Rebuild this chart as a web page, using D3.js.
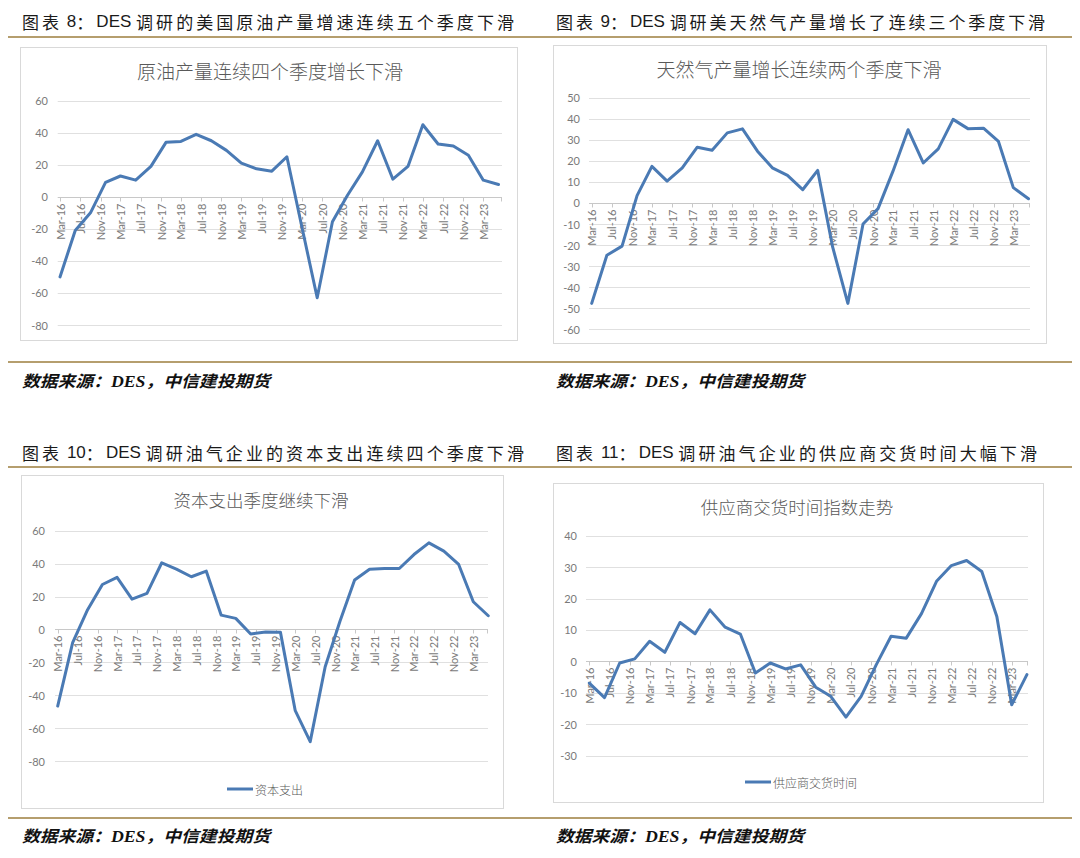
<!DOCTYPE html>
<html>
<head>
<meta charset="utf-8">
<script src="https://cdn.jsdelivr.net/npm/d3@7"></script>
<style>
  html, body { margin: 0; padding: 0; background: #fff; }
  svg { display: block; }
</style>
</head>
<body>
<svg id="chart" width="1080" height="858"></svg>
<script>
// ---------------- DATA ----------------
const quarters = ["Mar-16","Jun-16","Sep-16","Dec-16","Mar-17","Jun-17","Sep-17","Dec-17",
  "Mar-18","Jun-18","Sep-18","Dec-18","Mar-19","Jun-19","Sep-19","Dec-19",
  "Mar-20","Jun-20","Sep-20","Dec-20","Mar-21","Jun-21","Sep-21","Dec-21",
  "Mar-22","Jun-22","Sep-22","Dec-22","Mar-23","Jun-23"];

const tickLabels = ["Mar-16","Jul-16","Nov-16","Mar-17","Jul-17","Nov-17","Mar-18","Jul-18",
  "Nov-18","Mar-19","Jul-19","Nov-19","Mar-20","Jul-20","Nov-20","Mar-21","Jul-21",
  "Nov-21","Mar-22","Jul-22","Nov-22","Mar-23"];

const oilOutput = [-50, -21, -10, 9, 13, 10.4, 19, 34, 34.6, 39, 35, 29, 21, 17.5, 16, 25,
  -19, -63, -15.6, 1, 15.6, 35, 11, 19, 45, 33, 31.7, 26, 10.4, 7.7];

const gasOutput = [-47.7, -24.8, -20.5, 3.5, 17.4, 10.4, 16.7, 26.5, 25, 33.3, 35.2, 24.6,
  16.7, 13.1, 6.3, 15.5, -21, -47.7, -10, -2.7, 15, 34.8, 19, 25.7, 39.7, 35.2, 35.5, 29.2, 7.3, 2];

const capex = [-46.6, -8, 12, 27.3, 31.6, 18.4, 21.9, 40.5, 36.6, 32, 35.4, 8.7, 6.7, -2.8,
  -1.6, -1.8, -49.4, -68.2, -22.7, 5, 30, 36.6, 37, 37, 45.5, 52.6, 47.6, 39.5, 16.8, 8.3];

const deliveryTime = [-6.9, -11.5, -0.5, 0.8, 6.4, 2.9, 12.4, 8.8, 16.4, 10.9, 8.7, -3.7,
  -0.5, -2.4, -1.1, -8.2, -11.1, -17.7, -11.1, -1.1, 8, 7.4, 15.2, 25.5, 30.5, 32.1, 28.6,
  14.3, -13.8, -4.2];

const yTicksOil = [60, 40, 20, 0, -20, -40, -60, -80];
const yTicksGas = [50, 40, 30, 20, 10, 0, -10, -20, -30, -40, -50, -60];
const yTicksCapex = [60, 40, 20, 0, -20, -40, -60, -80];
const yTicksDelivery = [40, 30, 20, 10, 0, -10, -20, -30];

const figureTitles = [
  "图表 8：DES 调研的美国原油产量增速连续五个季度下滑",
  "图表 9：DES 调研美天然气产量增长了连续三个季度下滑",
  "图表 10：DES 调研油气企业的资本支出连续四个季度下滑",
  "图表 11：DES 调研油气企业的供应商交货时间大幅下滑"
];
const chartTitles = ["原油产量连续四个季度增长下滑", "天然气产量增长连续两个季度下滑",
  "资本支出季度继续下滑", "供应商交货时间指数走势"];
const legendNames = [null, null, "资本支出", "供应商交货时间"];
const sourceText = "数据来源：DES，中信建投期货";

// ---------------- DRAW ----------------
const svg = d3.select("#chart");
const parse = d3.timeParse("%b-%y");
const qDates = quarters.map(parse);
const tDates = tickLabels.map(parse);

const GOLD = "#b59e6e";
const LINE = "#4a7ab4";
const CJK = "'Noto Sans CJK SC', sans-serif";
const LAT = "Lato, 'Liberation Sans', sans-serif";

// golden rules
[37, 362, 467, 818].forEach(y => {
  svg.append("line").attr("x1", 8).attr("x2", 1072).attr("y1", y).attr("y2", y)
    .attr("stroke", GOLD).attr("stroke-width", 2);
});

// figure titles: CJK runs spaced out, ASCII runs kept tight
const ftPos = [
  {x: 22, y: 21, w: 495}, {x: 556, y: 21, w: 492},
  {x: 22, y: 452, w: 505}, {x: 556, y: 452, w: 484}
];
figureTitles.forEach((t, i) => {
  const runs = t.match(/[\x00-\x7f]+|[^\x00-\x7f]+/g);
  const txt = svg.append("text").attr("x", ftPos[i].x).attr("y", ftPos[i].y)
    .attr("dominant-baseline", "central")
    .attr("font-family", "'Liberation Sans Narrow', 'Liberation Sans', " + CJK)
    .attr("font-size", 17).attr("fill", "#1a1a1a");
  const spans = runs.map(r => txt.append("tspan")
    .attr("font-family", /[^\x00-\x7f]/.test(r) ? CJK : "'Liberation Sans Narrow', 'Liberation Sans', sans-serif")
    .attr("data-cjk", /[^\x00-\x7f]/.test(r) ? 1 : 0).text(r));
  const nCjk = runs.filter(r => /[^\x00-\x7f]/.test(r)).reduce((a, r) => a + r.length, 0);
  const base = txt.node().getComputedTextLength();
  const ls = Math.max(0, (ftPos[i].w - base) / nCjk);
  spans.forEach(s => { if (s.attr("data-cjk") === "1") s.attr("letter-spacing", ls); });
});

// sources
[[22, 381], [556, 381], [22, 836], [556, 836]].forEach(([x, y]) => {
  svg.append("text").attr("x", x).attr("y", y).attr("dominant-baseline", "central")
    .attr("font-family", "'Liberation Serif', " + CJK).attr("font-size", 16)
    .attr("font-weight", "bold").attr("font-style", "italic").attr("fill", "#111")
    .attr("textLength", 248).attr("lengthAdjust", "spacingAndGlyphs")
    .text(sourceText);
});

const charts = [
  { box: [20, 47, 517, 340], data: oilOutput, yt: yTicksOil, ydom: [-80, 60], yr: [325, 100.7],
    xr: [60, 483.3], grid: [57.7, 502], titleX: 270, titleY: 70, titleSize: 19, labelX: 48 },
  { box: [553, 45, 1046, 343], data: gasOutput, yt: yTicksGas, ydom: [-60, 50], yr: [329.3, 97.7],
    xr: [591.7, 1013.3], grid: [589, 1030], titleX: 799, titleY: 68, titleSize: 19, labelX: 580 },
  { box: [21, 475, 503, 808], data: capex, yt: yTicksCapex, ydom: [-80, 60], yr: [761, 530.7],
    xr: [57.7, 473.3], grid: [55, 488], titleX: 261, titleY: 499, titleSize: 17.5, labelX: 45,
    legend: {x1: 227, x2: 253, y: 789} },
  { box: [553, 483, 1043, 802], data: deliveryTime, yt: yTicksDelivery, ydom: [-30, 40], yr: [755.7, 535.7],
    xr: [589.3, 1011.7], grid: [586, 1028], titleX: 797, titleY: 506, titleSize: 17.5, labelX: 577,
    legend: {x1: 745, x2: 771, y: 782} }
];

charts.forEach((c, i) => {
  const g = svg.append("g");
  const [bx0, by0, bx1, by1] = c.box;
  g.append("rect").attr("x", bx0 + 0.5).attr("y", by0 + 0.5)
    .attr("width", bx1 - bx0).attr("height", by1 - by0)
    .attr("fill", "#fff").attr("stroke", "#d9d9d9").attr("stroke-width", 1);

  const x = d3.scaleTime().domain([tDates[0], tDates[tDates.length - 1]]).range(c.xr);
  const y = d3.scaleLinear().domain(c.ydom).range(c.yr);

  // title
  g.append("text").attr("x", c.titleX).attr("y", c.titleY).attr("text-anchor", "middle")
    .attr("dominant-baseline", "central").attr("font-family", CJK).attr("font-weight", 300)
    .attr("font-size", c.titleSize).attr("fill", "#595959").text(chartTitles[i]);

  // grid
  g.selectAll(".grid").data(c.yt).enter().append("line")
    .attr("x1", c.grid[0]).attr("x2", c.grid[1])
    .attr("y1", d => Math.round(y(d)) + 0.5).attr("y2", d => Math.round(y(d)) + 0.5)
    .attr("stroke", d => d === 0 ? "#c8c8c8" : "#e0e0e0").attr("stroke-width", 1);

  // y labels
  g.selectAll(".yl").data(c.yt).enter().append("text")
    .attr("x", c.labelX).attr("y", d => y(d)).attr("text-anchor", "end")
    .attr("dominant-baseline", "central").attr("font-family", LAT).attr("font-size", 11)
    .attr("fill", "#7a7a7a").text(d => d);

  // x ticks & labels at zero line
  const y0 = Math.round(y(0)) + 0.5;
  g.selectAll(".xt").data(tDates).enter().append("line")
    .attr("x1", d => Math.round(x(d)) + 0.5).attr("x2", d => Math.round(x(d)) + 0.5)
    .attr("y1", y0).attr("y2", y0 + 4).attr("stroke", "#c8c8c8");
  g.append("line").attr("x1", c.grid[1] - 0.5).attr("x2", c.grid[1] - 0.5)
    .attr("y1", y0).attr("y2", y0 + 4).attr("stroke", "#c8c8c8");
  g.selectAll(".xl").data(tDates).enter().append("text")
    .attr("transform", d => `translate(${x(d)},${y0 + 6}) rotate(-90)`)
    .attr("text-anchor", "end").attr("dominant-baseline", "central")
    .attr("font-family", LAT).attr("font-size", 11).attr("fill", "#7a7a7a")
    .text((d, k) => tickLabels[k]);

  // line
  const line = d3.line().x((d, k) => x(qDates[k])).y(d => y(d));
  g.append("path").datum(c.data).attr("d", line).attr("fill", "none")
    .attr("stroke", LINE).attr("stroke-width", 3).attr("stroke-linejoin", "round")
    .attr("stroke-linecap", "round");

  // legend
  if (c.legend) {
    g.append("line").attr("x1", c.legend.x1).attr("x2", c.legend.x2)
      .attr("y1", c.legend.y).attr("y2", c.legend.y).attr("stroke", LINE).attr("stroke-width", 3);
    g.append("text").attr("x", c.legend.x2 + 2).attr("y", c.legend.y)
      .attr("dominant-baseline", "central").attr("font-family", CJK).attr("font-weight", 300)
      .attr("font-size", 12).attr("fill", "#595959").text(legendNames[i]);
  }
});
</script>
</body>
</html>
